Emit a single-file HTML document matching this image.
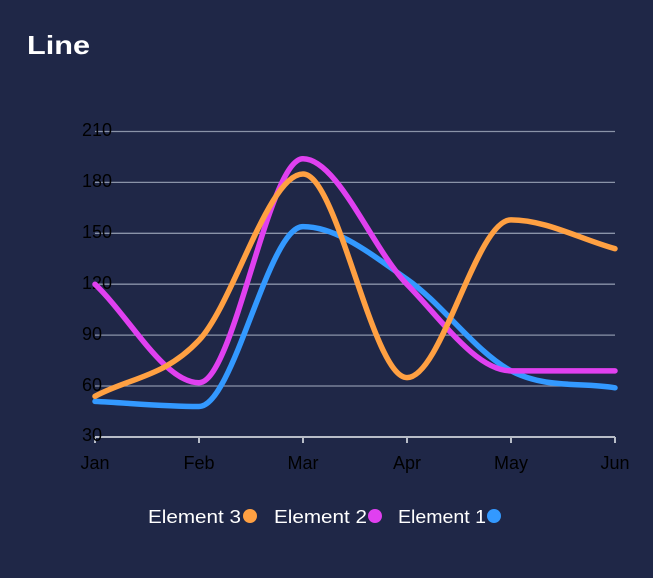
<!DOCTYPE html>
<html><head><style>
html,body{margin:0;padding:0;background:#1f2747;}
svg{display:block;font-family:"Liberation Sans",sans-serif;}
</style></head><body>
<svg id="s" width="653" height="578" xmlns="http://www.w3.org/2000/svg">
<rect width="653" height="578" fill="#1f2747"/>
<text x="27" y="54" fill="#fff" font-size="26" font-weight="bold" textLength="63" lengthAdjust="spacingAndGlyphs">Line</text>
<g stroke="#8a93a8" stroke-width="1.3">
<line x1="95" x2="615" y1="131.5" y2="131.5"/>
<line x1="95" x2="615" y1="182.4" y2="182.4"/>
<line x1="95" x2="615" y1="233.3" y2="233.3"/>
<line x1="95" x2="615" y1="284.2" y2="284.2"/>
<line x1="95" x2="615" y1="335.1" y2="335.1"/>
<line x1="95" x2="615" y1="386" y2="386"/>
</g>
<g stroke="#b8bdc8" stroke-width="2">
<line x1="95" x2="615" y1="437" y2="437"/>
<line x1="95" x2="95" y1="437" y2="443"/>
<line x1="199" x2="199" y1="437" y2="443"/>
<line x1="303" x2="303" y1="437" y2="443"/>
<line x1="407" x2="407" y1="437" y2="443"/>
<line x1="511" x2="511" y1="437" y2="443"/>
<line x1="615" x2="615" y1="437" y2="443"/>
</g>
<g fill="#000" font-size="18">
<text x="82" y="136">210</text>
<text x="82" y="187">180</text>
<text x="82" y="238">150</text>
<text x="82" y="289">120</text>
<text x="82" y="340">90</text>
<text x="82" y="391">60</text>
<text x="82" y="441">30</text>
</g>
<g fill="#000" font-size="18" text-anchor="middle">
<text x="95" y="469">Jan</text>
<text x="199" y="469">Feb</text>
<text x="303" y="469">Mar</text>
<text x="407" y="469">Apr</text>
<text x="511" y="469">May</text>
<text x="615" y="469">Jun</text>
</g>
<g id="lines" fill="none" stroke-width="5.5" stroke-linecap="round"></g>
<g fill="#fff" font-size="18">
<text x="148" y="523" textLength="93" lengthAdjust="spacingAndGlyphs">Element 3</text>
<circle cx="250" cy="516" r="7" fill="#ffa042"/>
<text x="274" y="523" textLength="93" lengthAdjust="spacingAndGlyphs">Element 2</text>
<circle cx="375" cy="516" r="7" fill="#e040f0"/>
<text x="398" y="523" textLength="88" lengthAdjust="spacingAndGlyphs">Element 1</text>
<circle cx="494" cy="516" r="7" fill="#3399ff"/>
</g>
</svg>
<script>
function Y(v){return 437-(v-30)/30*50.9;}
var xs=[95,199,303,407,511,615];
function mono(vals){
 var p=vals.map(function(v,i){return [xs[i],Y(v)];});
 var n=p.length,d=[],m=[];
 for(var i=0;i<n-1;i++)d.push((p[i+1][1]-p[i][1])/(p[i+1][0]-p[i][0]));
 m[0]=d[0];m[n-1]=d[n-2];
 for(i=1;i<n-1;i++){m[i]=(d[i-1]*d[i]<=0)?0:(d[i-1]+d[i])/2;}
 var s="M"+p[0][0]+","+p[0][1];
 for(i=0;i<n-1;i++){var h=(p[i+1][0]-p[i][0])/3;
  s+=" C"+(p[i][0]+h)+","+(p[i][1]+m[i]*h)+" "+(p[i+1][0]-h)+","+(p[i+1][1]-m[i+1]*h)+" "+p[i+1][0]+","+p[i+1][1];}
 return s;}
var series=[["#3399ff",[51,48,154,123,69,59]],["#e040f0",[120,62,194,120,69,69]],["#ffa042",[54,87,185,65,158,141]]];
var g=document.getElementById("lines");
series.forEach(function(s){var e=document.createElementNS("http://www.w3.org/2000/svg","path");e.setAttribute("d",mono(s[1]));e.setAttribute("stroke",s[0]);g.appendChild(e);});
</script>
</body></html>
